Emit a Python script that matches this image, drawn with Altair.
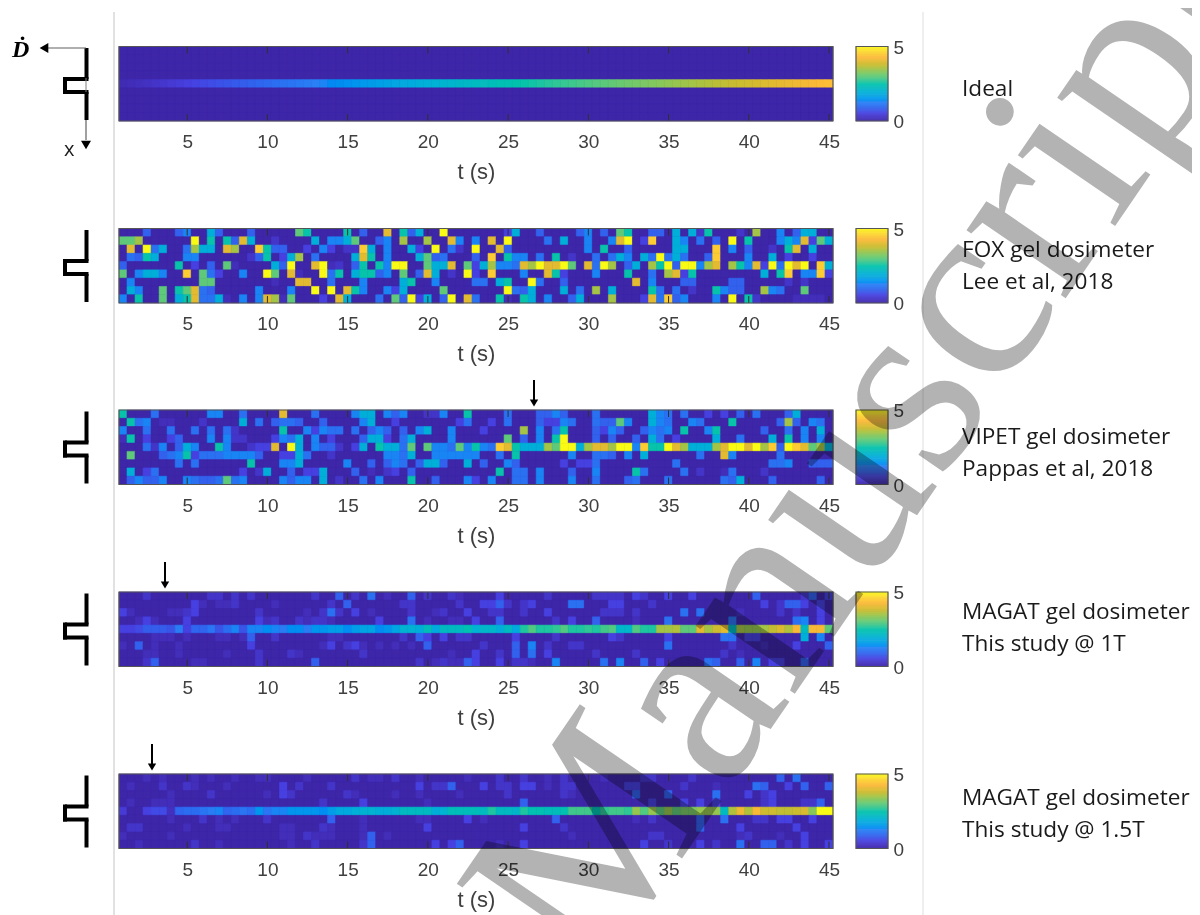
import altair as alt
import pandas as pd

TICKS = [5, 10, 15, 20, 25, 30, 35, 40, 45]
LEVELS = {0: 0, 1: .15, 2: .3, 3: .5, 4: .85, 5: 1.05, 6: 1.3, 7: 1.9, 8: 2.5, 9: 3.0, 10: 3.5, 11: 4.0, 12: 4.5, 13: 5.0}

CMAP_POS = [0, .1, .25, .35, .45, .55, .65, .75, .85, .93, 1]
CMAP_COL = ["#3e26a8", "#4740e0", "#2a80f5", "#10a8e0", "#06bcbc", "#38c890", "#80c860", "#c8bc30", "#fcb838", "#fcd830", "#f9fb15"]

IDEAL_LINE = [.1, .14, .19, .24, .29, .33, .38, .43, .48, .53,
              .58, .62, .67, .72, .77, .81, .86, .91, .96, 1.01,
              1.06, 1.1, 1.15, 1.2, 1.25, 1.29, 1.34, 1.39, 1.44, 1.49,
              1.54, 1.58, 1.63, 1.68, 1.73, 1.77, 1.82, 1.87, 1.92, 1.97,
              2.02, 2.06, 2.11, 2.16, 2.21, 2.25, 2.3, 2.35, 2.4, 2.45,
              2.5, 2.54, 2.59, 2.64, 2.69, 2.73, 2.78, 2.83, 2.88, 2.93,
              2.98, 3.02, 3.07, 3.12, 3.17, 3.21, 3.26, 3.31, 3.36, 3.41,
              3.46, 3.5, 3.55, 3.6, 3.65, 3.69, 3.74, 3.79, 3.84, 3.89,
              3.94, 3.98, 4.03, 4.08, 4.13, 4.17, 4.22, 4.27, 4.32]

FOX_ROWS = [
    {3:4,7:4,8:6,11:7,12:4,16:4,22:9,23:8,28:8,30:4,33:11,35:8,36:4,37:7,40:13,
     46:0,48:3,49:7,52:4,57:4,58:6,60:4,62:9,63:8,66:4,67:4,69:7,71:7,72:2,73:8,77:2,79:10,82:6,84:4,85:7,86:7},
    {0:9,1:9,2:10,9:13,11:8,13:8,14:4,15:11,16:7,19:2,24:7,26:6,27:6,28:7,29:9,32:4,33:6,35:10,38:10,41:11,42:6,44:6,
     46:11,48:13,53:5,55:7,58:6,61:6,62:11,63:13,65:3,66:12,69:7,70:6,72:5,74:4,76:13,78:8,82:6,83:7,84:6,85:11,86:3,87:9,88:7},
    {1:11,3:13,4:5,5:7,8:5,9:10,10:7,11:7,13:11,14:10,17:12,18:8,19:4,20:4,23:3,25:6,26:3,28:2,29:2,30:12,31:7,33:6,36:7,37:3,39:13,41:5,42:2,44:13,
     47:11,48:4,58:6,60:8,63:4,69:7,70:7,74:12,76:6,78:4,81:2,83:8,84:11,86:7},
    {1:5,2:4,3:8,4:7,8:6,9:6,16:2,17:4,18:8,20:3,21:7,22:10,24:5,29:7,30:11,31:8,33:6,37:7,38:9,39:4,40:5,44:4,
     46:12,48:8,49:6,50:6,52:5,54:8,56:2,59:5,61:5,62:7,63:6,65:7,66:5,67:13,68:5,69:7,70:5,73:4,74:12,78:6,81:7,83:3,86:3},
    {0:4,7:8,9:3,11:4,13:9,14:1,19:7,20:4,21:13,24:11,25:13,26:1,27:2,29:4,30:8,32:8,33:6,34:13,35:13,38:9,39:7,40:7,41:11,43:9,44:3,
     45:7,46:10,47:6,48:6,49:5,50:11,51:10,52:13,53:11,54:11,55:13,56:9,58:11,59:5,60:13,61:10,63:4,64:7,66:10,67:8,68:13,69:4,70:13,71:13,72:6,73:10,74:11,76:10,77:8,78:6,79:11,80:3,81:13,82:5,83:13,84:11,85:13,87:12,88:7},
    {0:9,2:6,3:7,4:7,5:6,8:12,10:9,11:5,12:3,15:6,18:13,19:9,21:11,22:1,25:13,26:5,27:8,29:7,30:8,31:8,32:4,33:6,35:9,37:4,38:11,39:7,41:2,43:13,44:3,
     46:12,50:6,53:11,54:8,55:3,59:6,63:8,66:5,68:10,69:11,70:3,71:8,80:7,82:8,83:12,85:6,86:6,87:12,88:3},
    {1:6,10:9,11:9,19:1,22:11,23:11,26:5,30:6,35:7,36:8,39:6,44:5,
     45:5,47:7,48:8,51:13,52:5,55:4,64:11,66:6,70:4,71:4,76:4,77:4,83:2,85:2},
    {1:7,2:6,5:9,7:8,8:9,9:11,10:5,11:4,17:6,21:6,24:13,26:13,28:11,29:8,30:6,33:6,34:3,35:7,40:9,
     48:13,49:5,50:4,51:7,55:7,57:5,59:10,61:7,66:8,67:5,69:5,71:2,74:8,75:6,76:4,77:4,80:10,81:6,82:5,85:9},
    {0:6,2:8,5:9,7:7,8:8,9:11,10:5,11:5,12:7,13:1,15:6,17:6,18:11,19:10,20:1,21:9,25:3,27:11,28:7,32:5,34:9,35:4,36:13,37:3,38:7,40:4,41:13,43:11,44:5,
     47:8,48:1,50:8,51:7,53:6,56:4,57:7,61:10,65:3,66:11,67:5,68:12,69:4,70:6,74:6,76:13,78:8,79:2,84:1,85:1,86:1,87:1},
]

VIPET_ROWS = [
    {0:8,4:5,11:6,12:6,15:5,20:11,24:5,29:6,30:7,31:7,33:6,34:4,35:6,38:2,39:2,40:6,43:8,
     48:5,52:4,53:4,54:6,55:4,59:5,66:7,67:6,68:5,70:5,73:3,75:3,77:4,79:5,83:4,84:7},
    {1:8,2:5,3:6,5:1,6:1,10:2,15:7,17:5,19:4,20:5,21:5,22:4,25:4,30:6,31:7,34:3,42:3,43:5,
     46:3,48:5,52:4,53:3,54:3,55:6,56:5,59:5,60:4,61:4,62:9,63:6,66:7,67:6,68:5,71:6,72:5,76:8,82:4,83:10,84:4,86:6,87:5},
    {0:6,3:5,6:5,9:5,11:5,13:5,14:2,20:8,23:6,24:3,25:6,26:5,27:5,29:5,31:4,32:6,33:4,35:4,37:6,38:7,41:6,
     45:3,50:10,52:6,54:5,55:8,59:4,60:3,61:6,62:4,65:4,66:6,67:5,68:6,70:8,73:6,74:8,80:4,83:5,85:6,87:7},
    {0:1,1:8,3:3,6:3,7:4,11:6,13:6,14:2,15:2,19:3,20:6,21:5,22:7,24:6,26:3,30:4,31:7,32:7,33:3,35:5,36:7,41:6,
     48:9,50:4,52:6,54:8,55:13,59:4,61:4,64:4,66:7,67:5,69:3,74:7,77:5,81:7,83:8,85:6,87:6},
    {3:5,4:2,5:6,7:4,8:7,9:6,12:8,13:6,16:2,17:3,18:3,19:11,21:13,22:7,24:6,25:4,26:4,27:2,29:3,30:7,32:8,33:7,34:7,35:5,36:9,38:9,39:6,40:6,41:5,42:9,43:6,44:8,
     45:6,46:5,47:12,48:11,49:8,50:7,51:7,52:7,53:10,54:9,55:13,56:13,57:7,58:10,59:11,60:11,61:10,62:13,63:13,64:6,65:12,66:8,67:8,68:13,69:11,70:10,71:7,72:7,73:7,74:10,75:11,76:13,77:13,78:11,79:13,80:10,81:12,82:4,83:13,84:12,85:11,86:9,87:10,88:7},
    {1:9,5:4,6:5,7:6,8:8,9:3,10:5,11:5,12:5,13:6,14:6,15:6,16:6,17:4,20:3,21:3,22:7,23:5,26:2,33:6,34:6,35:5,36:7,39:6,40:6,41:6,42:6,43:6,44:6,
     47:5,49:8,56:6,59:5,60:5,61:4,63:6,65:7,72:5,75:11,76:6,82:5},
    {7:5,9:5,16:8,20:6,21:6,22:7,28:6,31:4,33:4,34:6,35:5,37:4,38:7,39:7,40:4,43:7,
     45:4,48:6,49:4,55:3,57:3,58:3,59:5,69:5,81:5,82:5,83:6,86:4,87:4,88:4},
    {1:7,3:3,4:5,15:3,17:2,18:7,21:4,23:3,24:3,25:7,29:4,31:1,33:2,34:3,36:4,
     47:8,49:5,50:5,52:6,56:4,59:6,64:8,65:5,70:5,72:2,75:1,76:5,80:2},
    {1:4,2:6,3:4,4:4,5:6,8:6,9:5,10:4,11:4,12:5,13:9,14:5,15:6,20:6,21:4,22:6,23:6,25:7,27:2,30:5,32:6,36:8,39:4,43:6,44:3,
     46:6,49:5,50:5,52:6,56:6,59:5,63:4,64:5,68:5,75:5,76:4,77:7,81:4,87:4},
]

MAGAT1_LINE = [.5, .5, .6, .8, .8, .8, .7, 1.2, .5, .9, .9, 1.1, .7, 1.0, 1.3, .7, 1.3, 1.3, 1.4, 1.3, 1.2, 1.4, 1.4, 1.2,
               1.5, 1.5, 1.6, 1.6, 1.4, 1.6, 1.7, 1.7, 1.4, 1.5, 1.7, 2.0, 2.0, 1.9, 2.3, 1.8, 2.2, 2.2, 2.2, 2.4, 2.0,
               2.1, 2.1, 1.9, 2.2, 1.8, 2.6, 2.9, 2.6, 2.6, 2.7, 2.9, 2.6, 2.6, 2.7, 2.6, 2.8, 2.9, 2.1, 2.1, 2.9, 2.6, 2.6,
               3.5, 3.5, 3.6, 3.0, 3.0, 4.0, 3.5, 3.8, 4.0, 2.2, 3.5, 3.4, 3.4, 3.5, 3.7, 3.9, 3.6, 4.2, 2.2, 4.2, 4.2, 3.0]
MAGAT1_ROWS = [
    {3:2,11:2,12:2,14:2,16:2,24:2,27:4,29:2,31:5,33:1,36:4,38:2,41:2,42:1,47:3,53:2,59:2,60:2,61:2,62:2,64:3,65:2,68:3,71:3,79:4,85:2,86:4,88:3},
    {9:3,10:1,12:1,13:1,14:2,19:1,26:2,28:4,35:2,36:2,42:2,45:3,46:3,47:4,48:2,50:2,51:3,56:5,57:5,61:3,62:3,66:2,80:3,82:2,83:4,84:4,85:3,87:3},
    {0:3,1:1,6:1,7:1,8:2,9:3,17:2,23:1,25:2,26:5,27:2,29:3,31:1,36:2,39:1,40:2,43:3,46:2,47:2,50:2,53:3,60:2,61:2,62:2,64:2,70:5,72:5,77:1,82:2,84:2,87:3},
    {2:1,3:3,4:1,8:3,17:3,18:1,19:2,22:2,23:1,24:2,25:2,26:1,32:3,36:5,38:1,41:1,42:1,44:3,47:4,54:2,56:3,59:4,64:1,68:5,76:5,84:5,85:6,87:3},
    dict(enumerate(MAGAT1_LINE)),
    {4:1,5:1,6:1,8:1,12:1,13:1,15:1,16:4,19:2,26:1,27:1,35:2,37:4,38:3,40:3,42:2,43:2,49:3,54:2,61:3,62:2,68:3,75:5,76:5,78:3,79:3,85:7,87:6},
    {0:1,2:4,4:1,7:1,16:3,25:1,26:3,28:2,29:3,30:1,32:1,34:1,36:1,38:4,45:2,49:4,51:6,53:2,56:2,57:2,68:5,76:2,80:1,84:3,88:4},
    {3:1,4:1,7:1,13:1,17:2,21:2,22:1,30:2,41:1,44:3,47:2,49:4,51:5,53:3,59:2,64:2,75:2,77:1},
    {3:2,4:4,9:1,10:1,17:2,24:4,37:2,39:1,40:2,41:1,42:1,43:4,44:3,47:3,49:2,50:2,51:1,54:6,60:5,62:6,65:4,67:3,73:5,74:4,77:4,79:6,81:3,82:3,85:4},
]

MAGAT15_LINE = [.4, 0, 0, .5, .6, .6, .2, .9, 1.0, 1.0, 1.1, 1.2, 1.3, .9, 1.0, 1.1, 1.0, 1.5, 1.1, 1.3, 1.3, 1.5, 1.5, 1.5,
                1.5, 1.4, 1.6, 1.8, 1.8, 1.9, 2.0, 2.0, 1.9, 1.9, 2.0, 2.2, 2.2, 2.2, 2.2, 1.9, 2.0, 2.3, 2.3, 2.3, 2.3,
                2.2, 2.6, 2.2, 2.2, 2.1, 2.6, 2.4, 2.4, 2.3, 2.3, 2.4, 2.8, 2.8, 2.8, 2.4, 2.7, 2.8, 2.8, 2.7, 3.4, 2.9, 3.4,
                3.0, 3.4, 3.0, 3.2, 3.2, 3.4, 3.4, 3.4, 2.2, 3.6, 4.1, 3.6, 4.2, 3.8, 3.8, 3.7, 3.7, 3.8, 3.9, 3.3, 5.0, 5.0]
MAGAT15_ROWS = [
    {3:1,5:1,9:1,11:1,14:1,17:1,18:1,23:1,29:2,31:1,32:1,34:2,37:1,43:1,47:2,50:2,53:1,55:2,60:1,65:2,66:2,71:2,82:4,84:5},
    {1:1,5:2,8:2,9:1,13:1,20:3,22:2,26:2,37:3,39:2,40:2,41:4,45:3,47:2,48:2,50:3,51:3,53:1,55:2,56:2,63:3,64:3,70:2,74:1,79:5,80:4,83:3,85:4,88:4},
    {6:1,11:2,18:1,20:3,21:2,28:2,29:1,34:1,37:1,42:1,48:2,55:2,56:1,64:4,68:4,74:5,78:3,80:2,81:3},
    {1:1,4:1,5:1,6:1,25:2,30:3,38:1,50:4,66:3,70:3,72:3,74:3,80:2,81:3,85:2,86:2,87:4},
    dict(enumerate(MAGAT15_LINE)),
    {6:1,10:2,12:1,14:1,18:2,26:4,30:1,37:1,38:1,43:3,45:1,54:4,64:1,66:2,72:4,75:5,79:2,80:2,82:3,83:3,86:3},
    {1:2,2:2,8:1,12:1,13:1,20:1,21:1,25:2,26:1,30:1,38:3,50:3,55:2,72:4,77:3,84:3},
    {0:1,6:1,20:1,21:1,23:2,24:1,25:1,26:1,30:1,31:4,33:1,56:1,66:2,67:2,77:1,78:2,82:1,85:3},
    {2:1,9:2,12:1,21:1,24:2,30:2,31:4,39:3,41:3,42:4,47:1,50:3,65:3,68:2,72:3,74:2,77:5,80:4,81:4,83:2,85:3,88:3},
]

LABELS = [["Ideal"],
          ["FOX gel dosimeter", "Lee et al, 2018"],
          ["VIPET gel dosimeter", "Pappas et al, 2018"],
          ["MAGAT gel dosimeter", "This study @ 1T"],
          ["MAGAT gel dosimeter", "This study @ 1.5T"]]

OX = OY = 8
W, H = 1184, 907
PANEL_TOPS = [46.5, 228.5, 410, 592, 774]
PANEL_H = 74.5
SANS = "Liberation Sans"
GREY = "#404040"

color_scale = alt.Scale(domain=[p * 5 for p in CMAP_POS], range=CMAP_COL, clamp=True)
one = alt.Data(values=[{}])


def frame(rows):
    out = []
    for r, row in enumerate(rows):
        for c in range(89):
            level = row.get(c, 0)
            dose = level if isinstance(level, float) else LEVELS[level]
            out.append({"t0": 0.75 + c * 0.5, "t1": 1.25 + c * 0.5, "r0": r, "r1": r + 1, "dose": dose})
    return pd.DataFrame(out)


def rule(x0, y0, x1, y1, color="black", width=4.0):
    return alt.Chart(one).mark_rule(color=color, strokeWidth=width, strokeCap="butt").encode(
        x=alt.value(x0 - OX), y=alt.value(y0 - OY), x2=alt.value(x1 - OX), y2=alt.value(y1 - OY))


def tri(x, y, shape, size=70):
    return alt.Chart(one).mark_point(shape=shape, filled=True, color="black", size=size, opacity=1).encode(
        x=alt.value(x - OX), y=alt.value(y - OY))


def label(txt, x, y, size=22.6, font="Open Sans", color="#1a1a1a", **kw):
    return alt.Chart(one).mark_text(text=txt, align="left", baseline="middle", font=font, fontSize=size, color=color, **kw).encode(
        x=alt.value(x - OX), y=alt.value(y - OY))


def box(x0, y0, x1, y1):
    return alt.Chart(one).mark_rect(fillOpacity=0, stroke="#555555", strokeWidth=1.2).encode(
        x=alt.value(x0 - OX), x2=alt.value(x1 - OX), y=alt.value(y0 - OY), y2=alt.value(y1 - OY))


def panel(rows, top):
    bottom = top + PANEL_H
    xs = alt.Scale(domain=[0.75, 45.25], range=[119 - OX, 833 - OX], nice=False, zero=False)
    ys = alt.Scale(domain=[0, 9], range=[top - OY, bottom - OY], nice=False, zero=False)
    base = alt.Chart(one).mark_rect(color=CMAP_COL[0]).encode(
        x=alt.value(119 - OX), x2=alt.value(833 - OX), y=alt.value(top - OY), y2=alt.value(bottom - OY))
    heat = alt.Chart(frame(rows)).mark_rect(strokeWidth=0.6).encode(
        x=alt.X("t0:Q", scale=xs, axis=alt.Axis(
            orient="bottom", values=TICKS, offset=bottom - OY - H, title="t (s)", grid=False, domain=False, ticks=False,
            labelFont=SANS, labelFontSize=19, labelColor=GREY, labelPadding=11.5, labelFlush=False, labelOverlap=False,
            format="d",
            titleFont=SANS, titleFontSize=22, titleFontWeight="normal", titleColor=GREY, titlePadding=10)),
        x2="t1:Q",
        y=alt.Y("r0:Q", scale=ys, axis=None),
        y2="r1:Q",
        color=alt.Color("dose:Q", scale=color_scale, legend=None),
        stroke=alt.Stroke("dose:Q", scale=color_scale, legend=None),
    )
    tick_df = pd.DataFrame({"t": TICKS})
    tk = []
    for a, b in ((top, top + 7), (bottom - 7, bottom)):
        tk.append(alt.Chart(tick_df).mark_rule(color="#303030", strokeWidth=1).encode(
            x=alt.X("t:Q", scale=xs, axis=None), y=alt.value(a - OY), y2=alt.value(b - OY)))
    cb_levels = pd.DataFrame({"v0": [i * 0.05 for i in range(100)]})
    cb_levels["v1"] = cb_levels["v0"] + 0.05
    cbs = alt.Scale(domain=[0, 5], range=[bottom - OY, top - OY], nice=False, zero=False)
    cb = alt.Chart(cb_levels).mark_rect(strokeWidth=0.4).encode(
        x=alt.value(856 - OX), x2=alt.value(888 - OX),
        y=alt.Y("v0:Q", scale=cbs, axis=alt.Axis(
            orient="right", values=[0, 5], offset=888 - OX - W, title=None, grid=False, domain=False, ticks=False,
            labelFont=SANS, labelFontSize=19, labelColor=GREY, labelPadding=5, labelOffset=0.5, labelFlush=False, labelOverlap=False, format="d")),
        y2="v1:Q",
        color=alt.Color("v0:Q", scale=color_scale, legend=None),
        stroke=alt.Stroke("v0:Q", scale=color_scale, legend=None),
    )
    return [base, heat, *tk, box(119, top, 833, bottom), cb, box(856, top, 888, bottom)]


def icon(top):
    a = top + 1.5
    return [rule(86.5, a, 86.5, a + 31), rule(65, a + 31, 88.5, a + 31), rule(65, a + 29, 65, a + 46),
            rule(63, a + 44, 88.5, a + 44), rule(86.5, a + 44, 86.5, a + 72)]


layers = []
layers.append(rule(114, 12, 114, 915, "#c4c4c4", 1))
layers.append(rule(923, 12, 923, 915, "#dedede", 1))
for rows, top in zip([[{}, {}, {}, {}, dict(enumerate(IDEAL_LINE)), {}, {}, {}, {}], FOX_ROWS, VIPET_ROWS, MAGAT1_ROWS, MAGAT15_ROWS], PANEL_TOPS):
    layers += panel(rows, top)
    layers += icon(top)

# annotations of the first icon
layers += [rule(46, 48, 86, 48, "#606060", 1.2), tri(44, 48, "triangle-left", 100),
           rule(86, 78, 86, 92, "#808080", 1), rule(86, 120, 86, 140, "#606060", 1.2), tri(86, 145, "triangle-down", 100),
           label("x", 64, 150, 20, "Open Sans"),
           label("\u1e0a", 12, 50, 24, "Liberation Serif", "black", fontWeight="bold", fontStyle="italic")]

for x, y in [(534, 380), (165, 562), (152, 744)]:
    layers += [rule(x, y, x, y + 22, "black", 2), tri(x, y + 23, "triangle-down", 70)]

for lines, ys in zip(LABELS, [[89], [250, 282], [437, 469], [612, 644], [798, 830]]):
    for t, y in zip(lines, ys):
        layers.append(label(t, 962, y))

watermark = alt.Chart(one).mark_text(
    text="Manuscript", align="center", baseline="middle", font="Liberation Serif", fontSize=262,
    angle=304.4, color="#b3b3b3", blend="multiply").encode(x=alt.value(866 - OX), y=alt.value(450 - OY))
layers.append(watermark)

chart = alt.layer(*layers).resolve_scale(x="independent", y="independent").resolve_axis(x="independent", y="independent").properties(
    width=W, height=H, padding=0, autosize=alt.AutoSizeParams(type="none"), background="white"
).configure_view(stroke=None)

chart.save("out.html", embed_options={"renderer": "svg", "actions": False})
